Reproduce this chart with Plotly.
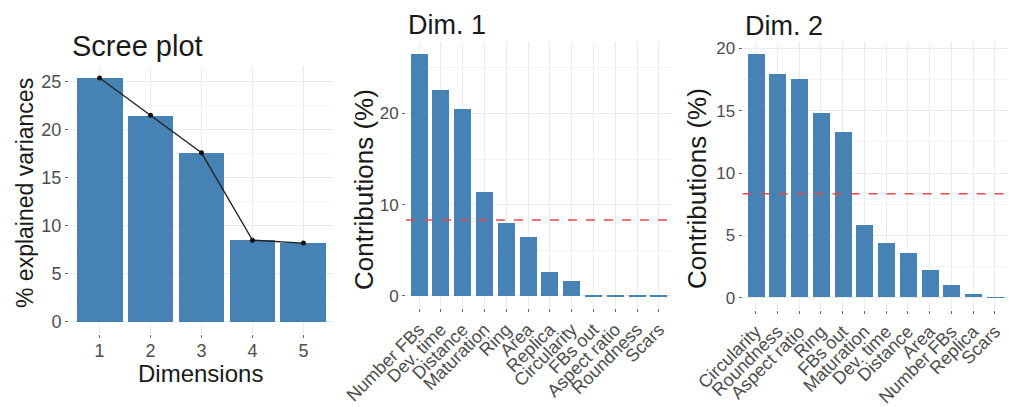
import plotly.graph_objects as go

# ---------------- data ----------------
dims = ["1", "2", "3", "4", "5"]
scree_vals = [25.4, 21.5, 17.6, 8.5, 8.2]

dim1_vars = ["Number FBs", "Dev. time", "Distance", "Maturation", "Ring", "Area",
             "Replica", "Circularity", "FBs out", "Aspect ratio", "Roundness", "Scars"]
dim1_vals = [26.6, 22.6, 20.5, 11.4, 8.0, 6.5, 2.7, 1.7, 0.2, 0.1, 0.05, 0.05]

dim2_vars = ["Circularity", "Roundness", "Aspect ratio", "Ring", "FBs out", "Maturation",
             "Dev. time", "Distance", "Area", "Number FBs", "Replica", "Scars"]
dim2_vals = [19.5, 17.9, 17.5, 14.8, 13.3, 5.8, 4.4, 3.6, 2.2, 0.96, 0.27, 0.03]

expected = 100 / 12  # uniform contribution reference line

# ---------------- style ----------------
W, H = 1009, 407
FONT = "Liberation Sans, Arial, sans-serif"
BAR = "#4682B4"
GRID = "#EBEBEB"
MINOR = "#F4F4F4"
TICKTXT = "#4D4D4D"

def px_x(p):
    return p / W

def px_y(p):
    return 1 - p / H

fig = go.Figure()

fig.add_trace(go.Bar(x=dims, y=scree_vals, width=0.9, marker=dict(color=BAR, line=dict(width=0)),
                     xaxis="x", yaxis="y", showlegend=False))
fig.add_trace(go.Scatter(x=dims, y=scree_vals, mode="lines+markers",
                         line=dict(color="#222222", width=1.3), marker=dict(color="#111111", size=5),
                         xaxis="x", yaxis="y", showlegend=False))
fig.add_trace(go.Bar(x=dim1_vars, y=dim1_vals, width=0.78, marker=dict(color=BAR, line=dict(width=0)),
                     xaxis="x2", yaxis="y2", showlegend=False))
fig.add_trace(go.Bar(x=dim2_vars, y=dim2_vals, width=0.78, marker=dict(color=BAR, line=dict(width=0)),
                     xaxis="x3", yaxis="y3", showlegend=False))

def xax(domain, anchor, rng, angle, size, cats, standoff=0):
    return dict(domain=domain, anchor=anchor, type="category", range=rng, automargin=False,
                tickmode="array", tickvals=cats, ticktext=cats,
                showgrid=True, gridcolor=GRID, gridwidth=1, zeroline=False, showline=False,
                ticks="outside", ticklen=3, tickcolor="#666666", tickwidth=1,
                ticklabelstandoff=standoff,
                tickangle=angle, tickfont=dict(family=FONT, size=size, color=TICKTXT),
                fixedrange=True)

def yax(domain, anchor, rng, dtick, size):
    return dict(domain=domain, anchor=anchor, range=rng, dtick=dtick, tick0=0, automargin=False,
                showgrid=True, gridcolor=GRID, gridwidth=1, zeroline=False, showline=False,
                ticks="outside", ticklen=3, tickcolor="#666666", tickwidth=1,
                tickfont=dict(family=FONT, size=size, color=TICKTXT),
                minor=dict(dtick=dtick / 2, tick0=0, showgrid=True, gridcolor=MINOR, gridwidth=0.8, ticks=""),
                fixedrange=True)

fig.update_layout(
    width=W, height=H,
    margin=dict(l=0, r=0, t=0, b=0, autoexpand=False),
    paper_bgcolor="white", plot_bgcolor="white",
    bargap=0,
    font=dict(family=FONT),
    xaxis=xax([px_x(69), px_x(334)], "y", [-0.6, 4.6], 0, 18, dims, standoff=-3),
    yaxis=yax([px_y(334), px_y(65.7)], "x", [-1.27, 26.67], 5, 18),
    xaxis2=xax([px_x(406), px_x(672)], "y2", [-0.6, 11.6], -45, 18, dim1_vars),
    yaxis2=yax([px_y(308), px_y(41.5)], "x2", [-1.33, 27.9], 10, 17),
    xaxis3=xax([px_x(742.6), px_x(1008)], "y3", [-0.6, 11.6], -45, 18, dim2_vars),
    yaxis3=yax([px_y(310), px_y(42.4)], "x3", [-0.975, 20.475], 5, 17),
)

# reference lines
for xa, ya in [("x2", "y2"), ("x3", "y3")]:
    fig.add_shape(type="line", xref=f"{xa} domain", yref=ya, x0=0, x1=1, y0=expected, y1=expected,
                  line=dict(color="#E8474C", width=1.5, dash="dash"))

def ann(text, x, y, size, xanchor="center", angle=0, color="#1a1a1a"):
    fig.add_annotation(text=text, x=px_x(x), y=px_y(y), xref="paper", yref="paper",
                       xanchor=xanchor, yanchor="middle", textangle=angle, showarrow=False,
                       font=dict(family=FONT, size=size, color=color))

# titles
ann("Scree plot", 70, 46, 29, xanchor="left")
ann("Dim. 1", 406, 25, 27, xanchor="left")
ann("Dim. 2", 743, 26, 27, xanchor="left")

# axis titles
ann("% explained variances", 25, 193, 23, angle=-90)
ann("Dimensions", 200, 373, 24)
ann("Contributions (%)", 364, 190, 26, angle=-90)
ann("Contributions (%)", 697, 189, 26, angle=-90)

fig.write_html("out.html",
               config={"displayModeBar": False},
               post_script="document.body.style.margin='0';document.body.style.padding='0';"
                           "document.documentElement.style.overflow='hidden';")
